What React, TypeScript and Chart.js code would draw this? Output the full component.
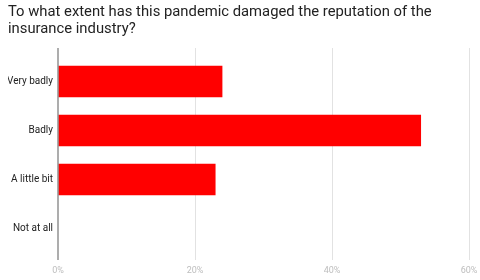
import React, { useEffect, useRef } from "react";
import { Chart, registerables } from "chart.js";

Chart.register(...registerables);

const titleLines = [
  "To what extent has this pandemic damaged the reputation of the",
  "insurance industry?",
];
const categories = ["Very badly", "Badly", "A little bit", "Not at all"];
const values = [24, 53, 23, 0];
const xTicks = [0, 20, 40, 60];

const gridPlugin = {
  id: "extGrid",
  beforeDatasetsDraw(chart: any) {
    const { ctx, chartArea, scales } = chart;
    const x = scales.x;
    ctx.save();
    ctx.strokeStyle = "#e2e2e2";
    ctx.lineWidth = 1;
    xTicks.forEach((v) => {
      if (v === 0) return;
      const px = Math.round(x.getPixelForValue(v)) + 0.5;
      ctx.beginPath();
      ctx.moveTo(px, chartArea.top - 9);
      ctx.lineTo(px, chartArea.bottom + 7);
      ctx.stroke();
    });
    ctx.restore();
  },
  afterDatasetsDraw(chart: any) {
    const { ctx, chartArea, scales } = chart;
    const x = scales.x;
    ctx.save();
    ctx.strokeStyle = "#999999";
    ctx.lineWidth = 1.6;
    const px = x.getPixelForValue(0);
    ctx.beginPath();
    ctx.moveTo(px, chartArea.top - 9);
    ctx.lineTo(px, chartArea.bottom + 7);
    ctx.stroke();
    ctx.restore();
  },
};

export default function App() {
  const ref = useRef<HTMLCanvasElement>(null);
  useEffect(() => {
    const chart = new Chart(ref.current as HTMLCanvasElement, {
      type: "bar",
      data: {
        labels: categories,
        datasets: [
          {
            data: values,
            backgroundColor: "#ff0000",
            borderWidth: 0,
            categoryPercentage: 1,
            barPercentage: 0.64,
          },
        ],
      },
      options: {
        indexAxis: "y",
        animation: false,
        responsive: false,
        maintainAspectRatio: false,
        layout: { padding: { left: 8, right: 0, top: 0, bottom: 0 } },
        plugins: {
          legend: { display: false },
          tooltip: { enabled: false },
          title: {
            display: true,
            text: titleLines,
            align: "start",
            color: "#222222",
            font: { family: "Roboto", size: 14.8, weight: "normal", lineHeight: 1.2 },
            padding: { top: 3, bottom: 18.5 },
          },
        },
        scales: {
          x: {
            min: 0,
            max: 60,
            afterBuildTicks(scale: any) {
              scale.ticks = xTicks.map((v) => ({ value: v }));
            },
            afterFit(scale: any) {
              scale.height = 27;
              scale.paddingRight = 11;
              scale.paddingLeft = 0;
            },
            grid: { display: false, drawTicks: false },
            border: { display: false },
            ticks: {
              color: "#bdbdbd",
              font: { family: "Roboto", size: 9 },
              padding: 12,
              callback: (v: any) => v + "%",
            },
          },
          y: {
            afterFit(scale: any) {
              scale.width = 50;
            },
            grid: { display: false, drawTicks: false },
            border: { display: false },
            ticks: {
              color: "#222222",
              font: { family: "Roboto", size: 10 },
              padding: 5,
            },
          },
        },
      },
      plugins: [gridPlugin],
    });
    return () => chart.destroy();
  }, []);
  return (
    <div style={{ position: "fixed", left: 0, top: 0, width: 480, height: 280, background: "#fff" }}>
      <canvas ref={ref} width={480} height={280} />
    </div>
  );
}
